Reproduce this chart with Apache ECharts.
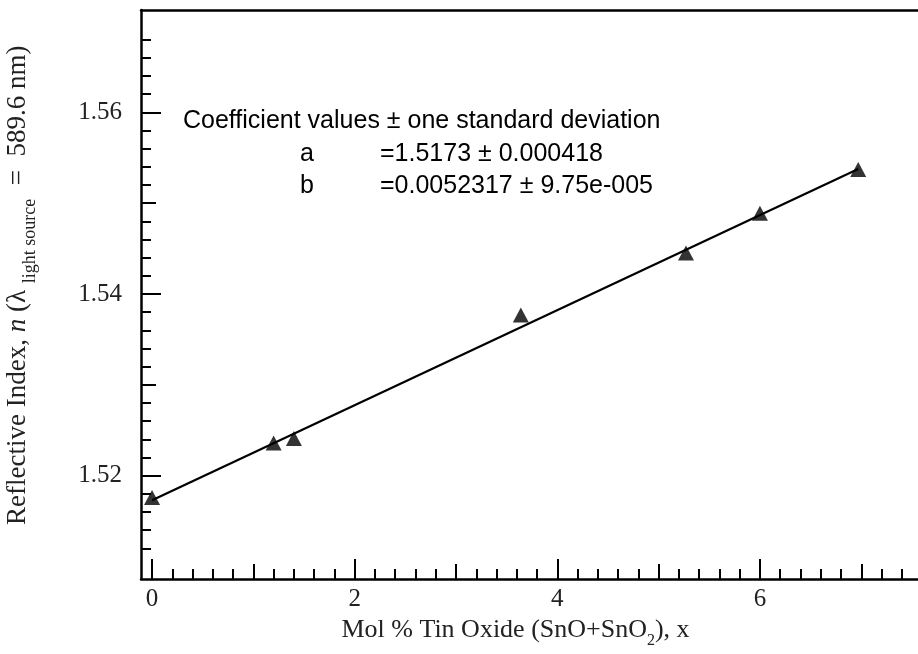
<!DOCTYPE html>
<html>
<head>
<meta charset="utf-8">
<script src="https://cdn.jsdelivr.net/npm/echarts@6/dist/echarts.min.js"></script>
<style>
  html, body { margin: 0; padding: 0; background: #fff; }
  #chart { width: 918px; height: 654px; }
</style>
</head>
<body>
<div id="chart"></div>
<script>
// measured points (mol % tin oxide vs refractive index)
var molPct = [0, 1.2, 1.4, 3.64, 5.27, 6.0, 6.97];
var refIdx = [1.5176, 1.5236, 1.5241, 1.5377, 1.5445, 1.5489, 1.5537];

// fit coefficients, n = a + b*x
var coefA = 1.5173;
var coefB = 0.0052317;
var fitRange = [0, 6.97];
var coefTitle = 'Coefficient values \u00b1 one standard deviation';
var coefNames = ['a', 'b'];
var coefTexts = ['=1.5173 \u00b1 0.000418', '=0.0052317 \u00b1 9.75e-005'];

// ticks
var xMajor = [0, 2, 4, 6];
var xMid = [1, 3, 5, 7];
var yMajor = [1.52, 1.54, 1.56];
var yMid = [1.53, 1.55];

var xMinor = [];
for (var i = 0; i <= 37; i++) {
    var v = Math.round(i * 2) / 10;
    if (v % 1 !== 0) xMinor.push(v);
}
var yMinor = [];
for (var j = 1510; j <= 1570; j += 2) {
    if (j % 10 !== 0) yMinor.push(j / 1000);
}

var X_MIN = -0.109, X_MAX = 7.56;
var Y_MIN = 1.50863, Y_MAX = 1.57126;

var fitData = fitRange.map(function (x) { return [x, coefA + coefB * x]; });
var pts = molPct.map(function (x, k) { return [x, refIdx[k]]; });

function tickAxis(pos, min, max, vals, len, withLine) {
    return {
        type: 'value', position: pos, min: min, max: max,
        axisLine: { show: !!withLine, onZero: false, lineStyle: { color: '#000', width: 2.5 } },
        axisTick: { show: true, inside: true, length: len, customValues: vals,
                    lineStyle: { color: '#000', width: 2 } },
        axisLabel: { show: false },
        splitLine: { show: false }
    };
}

var serifFont = '"Liberation Serif", "Times New Roman", serif';
var sansFont = '"Liberation Sans", Arial, sans-serif';

var xMain = tickAxis('bottom', X_MIN, X_MAX, xMajor, 20, true);
xMain.axisLabel = { show: true, customValues: xMajor, margin: 8,
    fontFamily: serifFont, fontSize: 25, color: '#222' };
xMain.name = '{t|Mol % Tin Oxide (SnO+SnO}{sub|2}{t|), x}';
xMain.nameLocation = 'middle';
xMain.nameGap = 28;
xMain.nameTextStyle = {
    padding: [0, 28, 0, 0],
    rich: {
        t: { fontFamily: serifFont, fontSize: 26, color: '#222', lineHeight: 32, verticalAlign: 'top' },
        sub: { fontFamily: serifFont, fontSize: 16, color: '#222', lineHeight: 32, verticalAlign: 'bottom' }
    }
};

var xTop = tickAxis('top', X_MIN, X_MAX, [], 0, true);
xTop.axisTick = { show: false };

var yMain = tickAxis('left', Y_MIN, Y_MAX, yMajor, 20, true);
yMain.axisLabel = { show: true, customValues: yMajor, margin: 19,
    fontFamily: serifFont, fontSize: 25, color: '#222',
    formatter: function (v) { return v.toFixed(2); } };

function annot(x, y, txt) {
    return {
        type: 'text', x: x, y: y,
        style: { text: txt, fontFamily: sansFont, fontSize: 25, fill: '#000', verticalAlign: 'middle' }
    };
}

var option = {
    animation: false,
    backgroundColor: '#fff',
    grid: { left: 141, right: 0, top: 10, bottom: 75 },
    xAxis: [
        xMain,
        tickAxis('bottom', X_MIN, X_MAX, xMid, 15),
        tickAxis('bottom', X_MIN, X_MAX, xMinor, 10),
        xTop
    ],
    yAxis: [
        yMain,
        tickAxis('left', Y_MIN, Y_MAX, yMid, 15),
        tickAxis('left', Y_MIN, Y_MAX, yMinor, 10)
    ],
    graphic: [
        {
            type: 'text', x: 22, y: 525, rotation: Math.PI / 2,
            style: {
                text: '{t|Reflective Index, }{it|n}{t| (\u03bb }{sub|light source}{t|  =  589.6 nm)}',
                align: 'left', verticalAlign: 'middle',
                rich: {
                    t: { fontFamily: serifFont, fontSize: 27, fill: '#222', lineHeight: 35, verticalAlign: 'top' },
                    it: { fontFamily: serifFont, fontSize: 27, fontStyle: 'italic', fill: '#222', lineHeight: 35, verticalAlign: 'top' },
                    sub: { fontFamily: serifFont, fontSize: 18, fill: '#222', lineHeight: 35, verticalAlign: 'bottom' }
                }
            }
        },
        annot(183, 121, coefTitle),
        annot(300, 154, coefNames[0]),
        annot(380, 154, coefTexts[0]),
        annot(300, 186, coefNames[1]),
        annot(380, 186, coefTexts[1])
    ],
    series: [
        {
            name: 'fit', type: 'line', data: fitData,
            symbol: 'none', lineStyle: { color: '#000', width: 2.2 },
            silent: true
        },
        {
            name: 'measured', type: 'scatter', data: pts,
            symbol: 'triangle', symbolSize: [16, 15],
            itemStyle: { color: '#000' }
        }
    ]
};

var myChart = echarts.init(document.getElementById('chart'), null, { renderer: 'canvas' });
myChart.setOption(option);
</script>
</body>
</html>
